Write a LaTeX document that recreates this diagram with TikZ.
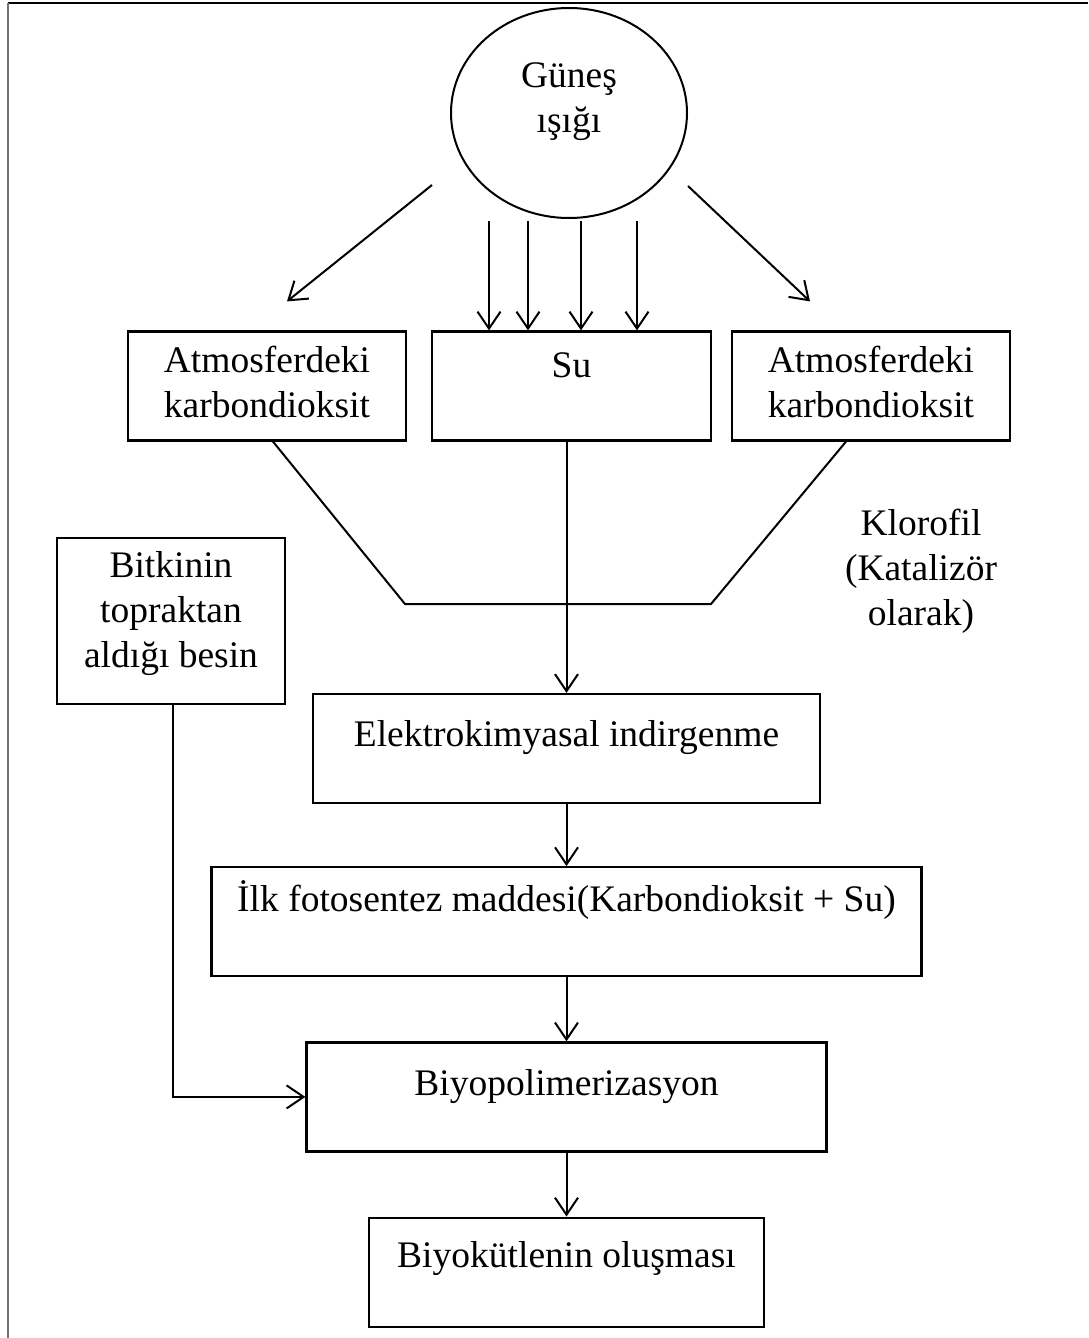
\documentclass[tikz,border=0pt]{standalone}
\usepackage{fontspec}
\setmainfont{Liberation Serif}
\usetikzlibrary{shapes.geometric, arrows.meta, positioning, calc}

\begin{document}
\begin{tikzpicture}[
    x=1pt, y=-1pt,
    node distance=62pt,
    >={Straight Barb[length=17pt, width=23pt]},
    box/.style={draw, line width=2.2pt, rectangle, inner sep=0pt, minimum height=109pt},
    txt/.style={font=\fontsize{37.5}{45}\selectfont, align=center, inner sep=0pt, anchor=base},
    flow/.style={->, line width=2pt},
    link/.style={line width=2pt}
  ]
    \useasboundingbox (0,0) rectangle (1088,1338);
    % frame of the screenshot
    \draw[line width=2pt] (8,3) -- (1088,3);
    \draw[line width=1.4pt, black!55] (8,3) -- (8,1338);

    \node[draw, ellipse, line width=2pt, minimum width=236pt, minimum height=210pt] (sun) at (569,113) {};
    \node[txt] (suntxt) at ([yshift=-19pt]sun.center) {Güneş\\ışığı};

    \node[box, minimum width=278pt] (atm1) at (267,386) {};
    \node[box, minimum width=279pt] (su) at (571.5,386) {};
    \node[box, minimum width=278pt] (atm2) at (871,386) {};
    \node[box, minimum width=228pt, minimum height=166pt] (bitki) at (171,621) {};
    \node[box, minimum width=507pt] (elek) at (566.5,748.5) {};
    \node[box, minimum width=710pt, below=of elek] (ilk) {};
    \node[box, minimum width=520pt, below=64pt of ilk] (biyo) {};
    \node[box, minimum width=395pt, below=64pt of biyo] (kutle) {};

    \node[txt] (atm1txt) at ([yshift=-87pt]atm1.north) {Atmosferdeki\\karbondioksit};
    \node[txt] (sutxt) at ([yshift=-47pt]su.north) {Su};
    \node[txt] (atm2txt) at ([yshift=-87pt]atm2.north) {Atmosferdeki\\karbondioksit};
    \node[txt] (bitkitxt) at ([yshift=-131pt]bitki.north) {Bitkinin\\topraktan\\aldığı besin};
    \node[txt] (elektxt) at ([yshift=-54pt]elek.north) {Elektrokimyasal indirgenme};
    \node[txt] (ilktxt) at ([yshift=-45pt]ilk.north) {İlk fotosentez maddesi(Karbondioksit + Su)};
    \node[txt] (biyotxt) at ([yshift=-54pt]biyo.north) {Biyopolimerizasyon};
    \node[txt] (kutletxt) at ([yshift=-51pt]kutle.north) {Biyokütlenin oluşması};
    \node[txt] (klorofil) at (921,625) {Klorofil\\(Katalizör\\olarak)};

    % sunlight
    \draw[flow] ($(sun.center)+(-137,72)$) -- ([shift={(20pt,29pt)}]atm1.north);
    \draw[flow] ($(sun.center)+(119,73)$) -- ([shift={(-61pt,29pt)}]atm2.north);
    \foreach \d in {-80,-41,12,68}
      \draw[flow] ([xshift=\d pt, yshift=-2pt]sun.south) -- ([xshift=\d pt]sun.south |- su.north);

    % funnel
    \coordinate (jl) at (405,604);
    \coordinate (jr) at (711,604);
    \draw[link] ([xshift=6pt]atm1.south) -- (jl) -- (jr) -- ([xshift=-25pt]atm2.south);
    \draw[flow] (elek.north |- su.south) -- (elek.north);

    \draw[flow] (elek) -- (ilk);
    \draw[flow] (ilk) -- (biyo);
    \draw[flow] (biyo) -- (kutle);
    \draw[flow] ([xshift=2pt]bitki.south) |- (biyo.west);
  \end{tikzpicture}
\end{document}
